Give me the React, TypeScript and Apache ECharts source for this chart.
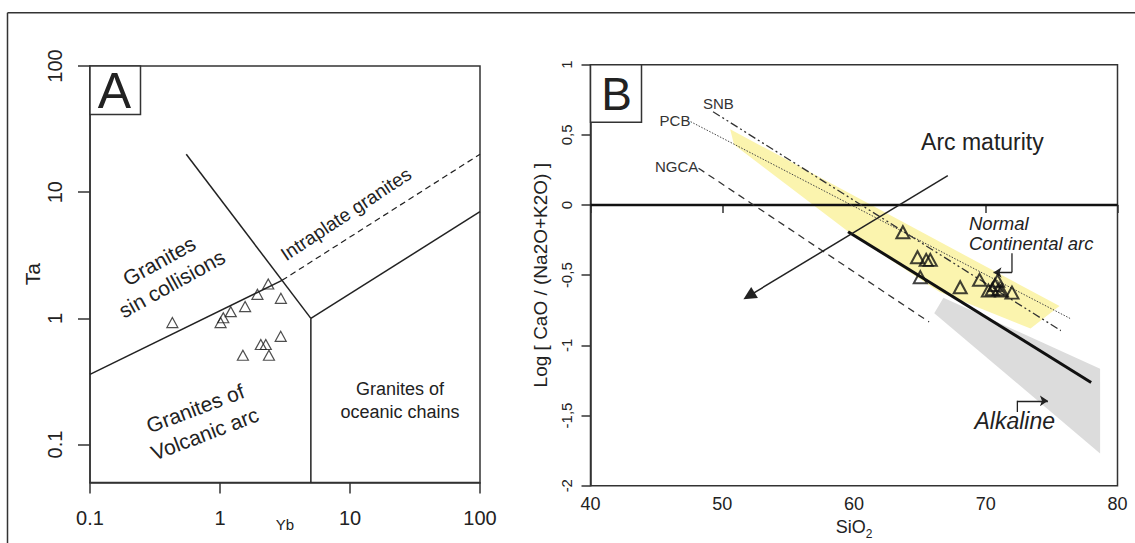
import React, { useEffect, useRef } from 'react';
import * as echarts from 'echarts';

const FONT = "'Liberation Sans', Arial, Helvetica, sans-serif";
const INK = '#222';

// ---------- Panel A (Ta vs Yb, log-log) ----------
const ybTicks = [0.1, 1, 10, 100];
const taTicks = [0.1, 1, 10, 100];
const sampleYb = [0.43, 1.01, 1.06, 1.21, 1.56, 1.94, 2.35, 2.94, 2.93, 2.06, 2.25, 1.5, 2.38];
const sampleTa = [0.925, 0.925, 1.01, 1.13, 1.24, 1.55, 1.87, 1.44, 0.72, 0.62, 0.62, 0.51, 0.51];
const synColVagLine = [[0.1, 0.36], [3, 2]];
const intraplateDashed = [[3, 2], [100, 20]];
const wpgBoundary = [[0.55, 20], [5, 1]];
const orgBoundary = [[5, 1], [100, 7]];
const vagOrgBoundary = [[5, 1], [5, 0.05]];

// ---------- Panel B (Log[CaO/(Na2O+K2O)] vs SiO2) ----------
const sio2 = [63.71, 64.82, 65.48, 65.79, 65.03, 68.06, 69.53, 70.2, 70.5, 70.7, 70.9, 71.0, 71.2, 71.99];
const logRatio = [-0.194, -0.372, -0.391, -0.391, -0.514, -0.586, -0.533, -0.61, -0.6, -0.57, -0.54, -0.6, -0.61, -0.624];
const snbLine = [[49.3, 0.665], [75.7, -0.895]];
const pcbLine = [[47.6, 0.594], [76.4, -0.808]];
const ngcaLine = [[48.2, 0.262], [65.7, -0.833]];
const alkalineLine = [[59.55, -0.19], [78.0, -1.264]];
const zeroLine = [[40, 0], [80, 0]];
const arcMaturityArrow = [[67.12, 0.21], [52.03, -0.647]];
const normalArcStem = [[71.99, -0.343], [71.99, -0.481]];
const normalArcArrow = [[71.99, -0.481], [70.59, -0.481]];
const alkalineStem = [[72.4, -1.474], [72.4, -1.395]];
const alkalineArrow = [[72.4, -1.395], [74.72, -1.395]];
const yellowField = [[50.6, 0.54], [75.6, -0.72], [73.4, -0.88], [66.5, -0.62], [60, -0.22], [50.9, 0.43]];
const grayField = [[66.79, -0.66], [78.68, -1.166], [78.68, -1.77], [66.09, -0.771]];

const deg = (d: number) => (d * Math.PI) / 180;

function txt(text: string, x: number, y: number, size: number, opts: any = {}) {
  const { rotation = 0, align = 'center', italic = false, lineHeight, color = INK } = opts;
  return {
    type: 'text',
    x,
    y,
    rotation,
    z: 100,
    silent: true,
    style: {
      text,
      fontSize: size,
      fontFamily: FONT,
      fontStyle: italic ? 'italic' : 'normal',
      fill: color,
      align,
      verticalAlign: 'middle',
      lineHeight: lineHeight || Math.round(size * 1.2),
    },
  };
}

function lineSeries(data: number[][], axis: number, width: number, type: any = 'solid', color = INK) {
  return {
    type: 'line',
    xAxisIndex: axis,
    yAxisIndex: axis,
    data,
    symbol: 'none',
    silent: true,
    z: 3,
    lineStyle: { color, width, type },
  };
}

function arrowSeries(segments: number[][][], size: number, symbol: string, width: number) {
  return {
    type: 'lines',
    coordinateSystem: 'cartesian2d',
    xAxisIndex: 1,
    yAxisIndex: 1,
    polyline: false,
    silent: true,
    z: 4,
    symbol: ['none', symbol],
    symbolSize: size,
    lineStyle: { color: INK, width, opacity: 1, curveness: 0 },
    itemStyle: { color: INK },
    data: segments.map((coords) => ({ coords })),
  };
}

function polygonSeries(points: number[][], fill: string) {
  return {
    type: 'custom',
    xAxisIndex: 1,
    yAxisIndex: 1,
    silent: true,
    z: 1,
    data: [[60, 0]],
    renderItem: (_params: any, api: any) => ({
      type: 'polygon',
      shape: { points: points.map((p) => api.coord(p)) },
      style: { fill, stroke: 'none' },
    }),
  };
}

const axisLineStyle = { color: '#333', width: 1.5 };
const labelBase = { color: INK, fontFamily: FONT };

const option: any = {
  animation: false,
  backgroundColor: '#fff',
  grid: [
    { left: 90, top: 66, width: 390, height: 416.5, show: true, borderColor: '#333', borderWidth: 1.5, containLabel: false, outerBoundsMode: 'none' },
    { left: 590.5, top: 64.7, width: 527, height: 421, show: true, borderColor: '#333', borderWidth: 1.5, containLabel: false, outerBoundsMode: 'none' },
  ],
  xAxis: [
    {
      gridIndex: 0,
      type: 'log',
      logBase: 10,
      min: 0.1,
      max: 100,
      axisLine: { show: true, lineStyle: axisLineStyle },
      axisTick: { show: true, length: 11, lineStyle: axisLineStyle, customValues: ybTicks },
      axisLabel: { ...labelBase, fontSize: 20, margin: 25, customValues: ybTicks, formatter: (v: number) => String(+v.toPrecision(6)) },
      minorTick: { show: false },
      splitLine: { show: false },
      name: 'Yb',
      nameLocation: 'middle',
      nameGap: 34,
      nameMoveOverlap: false,
      nameTextStyle: { ...labelBase, fontSize: 15 },
    },
    {
      gridIndex: 1,
      type: 'value',
      min: 40,
      max: 80,
      interval: 10,
      axisLine: { show: true, lineStyle: axisLineStyle },
      axisTick: { show: true, length: 8, lineStyle: axisLineStyle },
      axisLabel: { ...labelBase, fontSize: 18, margin: 9 },
      splitLine: { show: false },
      name: 'SiO{s|2}',
      nameLocation: 'middle',
      nameGap: 28,
      nameMoveOverlap: false,
      nameTextStyle: {
        ...labelBase,
        fontSize: 18,
        rich: { s: { fontSize: 12, fontFamily: FONT, color: INK, padding: [14, 0, 0, 0] } },
      },
    },
  ],
  yAxis: [
    {
      gridIndex: 0,
      type: 'log',
      logBase: 10,
      min: 0.05,
      max: 100,
      axisLine: { show: true, lineStyle: axisLineStyle },
      axisTick: { show: true, length: 12, lineStyle: axisLineStyle, customValues: taTicks },
      axisLabel: { ...labelBase, fontSize: 20, margin: 25, rotate: 90, customValues: taTicks, formatter: (v: number) => String(+v.toPrecision(6)) },
      minorTick: { show: false },
      splitLine: { show: false },
      name: 'Ta',
      nameLocation: 'middle',
      nameRotate: 90,
      nameGap: 47,
      nameMoveOverlap: false,
      nameTextStyle: { ...labelBase, fontSize: 21 },
    },
    {
      gridIndex: 1,
      type: 'value',
      min: -2,
      max: 1,
      interval: 0.5,
      axisLine: { show: true, lineStyle: axisLineStyle },
      axisTick: { show: true, length: 9, lineStyle: axisLineStyle },
      axisLabel: { ...labelBase, fontSize: 15, margin: 17, rotate: 90, formatter: (v: number) => String(v).replace('.', ',') },
      splitLine: { show: false },
      name: 'Log [ CaO / (Na2O+K2O) ]',
      nameLocation: 'middle',
      nameRotate: 90,
      nameGap: 41,
      nameMoveOverlap: false,
      nameTextStyle: { ...labelBase, fontSize: 19 },
    },
  ],
  series: [
    // Panel A boundaries
    lineSeries(synColVagLine, 0, 1.5),
    lineSeries(intraplateDashed, 0, 1.2, [6, 4]),
    lineSeries(wpgBoundary, 0, 1.5),
    lineSeries(orgBoundary, 0, 1.5),
    lineSeries(vagOrgBoundary, 0, 1.5),
    {
      type: 'scatter',
      xAxisIndex: 0,
      yAxisIndex: 0,
      data: sampleYb.map((v, i) => [v, sampleTa[i]]),
      symbol: 'triangle',
      symbolSize: [11, 10],
      z: 5,
      itemStyle: { color: 'rgba(0,0,0,0)', borderColor: INK, borderWidth: 1.2 },
    },
    // Panel B fields
    polygonSeries(grayField, '#dcdcdc'),
    polygonSeries(yellowField, '#fbf4ae'),
    lineSeries(zeroLine, 1, 2.5, 'solid', '#111'),
    lineSeries(snbLine, 1, 1.3, [8, 3, 2, 3, 2, 3], '#333'),
    lineSeries(pcbLine, 1, 1, [1.5, 1.5], '#444'),
    lineSeries(ngcaLine, 1, 1.3, [7, 5], '#333'),
    lineSeries(alkalineLine, 1, 3, 'solid', '#111'),
    arrowSeries([arcMaturityArrow], 13, 'triangle', 1.5),
    arrowSeries([normalArcArrow, alkalineArrow], 8, 'arrow', 1.3),
    lineSeries(normalArcStem, 1, 1.3),
    lineSeries(alkalineStem, 1, 1.3),
    {
      type: 'scatter',
      xAxisIndex: 1,
      yAxisIndex: 1,
      data: sio2.map((v, i) => [v, logRatio[i]]),
      symbol: 'triangle',
      symbolSize: [13, 12],
      z: 5,
      itemStyle: { color: 'rgba(0,0,0,0)', borderColor: '#111', borderWidth: 2 },
    },
  ],
  graphic: [
    // outer frame
    { type: 'line', z: 100, silent: true, shape: { x1: 7.5, y1: 12.7, x2: 1135, y2: 12.7 }, style: { stroke: '#333', lineWidth: 1.5 } },
    { type: 'line', z: 100, silent: true, shape: { x1: 7.5, y1: 12.7, x2: 7.5, y2: 543 }, style: { stroke: '#333', lineWidth: 1.5 } },
    // panel letter boxes
    { type: 'rect', z: 100, silent: true, shape: { x: 90, y: 66, width: 50.5, height: 48.5 }, style: { fill: '#fff', stroke: '#333', lineWidth: 1.5 } },
    txt('A', 114.5, 91, 50),
    { type: 'rect', z: 100, silent: true, shape: { x: 590.5, y: 64.7, width: 51, height: 57.6 }, style: { fill: '#fff', stroke: '#333', lineWidth: 1.5 } },
    txt('B', 616.5, 94, 46),
    // panel A fields
    txt('Granites\nsin collisions', 165.5, 272.2, 21, { rotation: deg(29), lineHeight: 26 }),
    txt('Intraplate granites', 346, 214, 19, { rotation: deg(33.5) }),
    txt('Granites of\nVolcanic arc', 200, 421, 21, { rotation: deg(20.8), lineHeight: 27 }),
    txt('Granites of\noceanic chains', 400, 400.5, 18, { lineHeight: 22.5 }),
    // panel B annotations
    txt('SNB', 718.3, 103.3, 15, { color: '#333' }),
    txt('PCB', 675, 120, 15, { color: '#333' }),
    txt('NGCA', 676.7, 166.7, 15, { color: '#333' }),
    txt('Arc maturity', 982.4, 142, 23),
    txt('Normal', 969, 223, 18.5, { align: 'left', italic: true, lineHeight: 19 }),
    txt('Continental arc', 969, 243.5, 18.5, { align: 'left', italic: true, lineHeight: 19 }),
    txt('Alkaline', 1014.7, 420.7, 23, { italic: true }),
  ],
};

export default function App() {
  const ref = useRef<HTMLDivElement>(null);
  useEffect(() => {
    if (!ref.current) return;
    const chart = echarts.init(ref.current, null, { renderer: 'svg' });
    chart.setOption(option);
    return () => chart.dispose();
  }, []);
  return (
    <div
      ref={ref}
      style={{ position: 'fixed', left: 0, top: 0, width: 1135, height: 543, background: '#fff' }}
    />
  );
}
